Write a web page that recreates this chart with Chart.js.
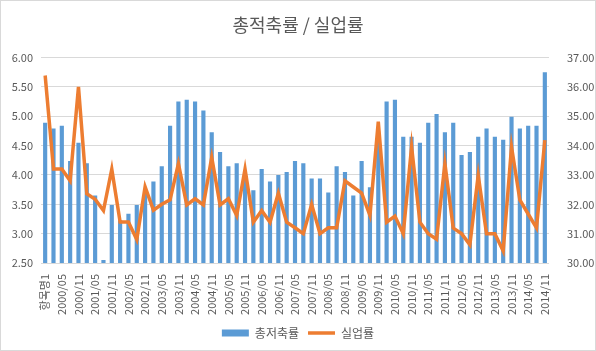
<!DOCTYPE html>
<html>
<head>
<meta charset="utf-8">
<script src="https://cdn.jsdelivr.net/npm/chart.js@4/dist/chart.umd.min.js"></script>
<style>
  body { margin: 0; background: #fff; }
  #wrap { position: relative; width: 596px; height: 351px; }
  #frame { position: absolute; left: 0; top: 0; width: 596px; height: 351px; box-sizing: border-box; border: 1px solid #d9d9d9; pointer-events: none; }
</style>
</head>
<body>
<div id="wrap">
  <canvas id="chart" width="596" height="351"></canvas>
  <div id="frame"></div>
</div>
<script>
// Kategorien (Quartale)
var labels = ["항목명1",
  "2000/02", "2000/05", "2000/08", "2000/11",
  "2001/02", "2001/05", "2001/08", "2001/11",
  "2002/02", "2002/05", "2002/08", "2002/11",
  "2003/02", "2003/05", "2003/08", "2003/11",
  "2004/02", "2004/05", "2004/08", "2004/11",
  "2005/02", "2005/05", "2005/08", "2005/11",
  "2006/02", "2006/05", "2006/08", "2006/11",
  "2007/02", "2007/05", "2007/08", "2007/11",
  "2008/02", "2008/05", "2008/08", "2008/11",
  "2009/02", "2009/05", "2009/08", "2009/11",
  "2010/02", "2010/05", "2010/08", "2010/11",
  "2011/02", "2011/05", "2011/08", "2011/11",
  "2012/02", "2012/05", "2012/08", "2012/11",
  "2013/02", "2013/05", "2013/08", "2013/11",
  "2014/02", "2014/05", "2014/08", "2014/11"];

// 총저축률 (linke Achse)
var sparquote = [4.89, 4.79, 4.84, 4.24, 4.55, 4.20, 3.65, 2.55, 3.49, 3.23,
  3.34, 3.49, 3.73, 3.89, 4.15, 4.84, 5.25, 5.28, 5.25, 5.10,
  4.73, 4.39, 4.15, 4.20, 4.00, 3.74, 4.10, 3.89, 4.00, 4.05,
  4.24, 4.20, 3.94, 3.94, 3.70, 4.15, 4.05, 3.65, 4.24, 3.79,
  4.65, 5.25, 5.28, 4.65, 4.65, 4.55, 4.89, 5.04, 4.73, 4.89,
  4.34, 4.39, 4.65, 4.79, 4.65, 4.60, 4.99, 4.79, 4.84, 4.84,
  5.75];

// 실업률 (rechte Achse)
var arbeitslos = [36.39, 33.2, 33.2, 32.8, 36.0, 32.36, 32.17, 31.79, 33.2, 31.4,
  31.4, 30.8, 32.6, 31.8, 32.0, 32.15, 33.39, 31.98, 32.19, 31.98,
  33.6, 31.98, 32.19, 31.62, 33.2, 31.39, 31.79, 31.39, 32.38, 31.39,
  31.2, 31.0, 32.0, 31.0, 31.2, 31.2, 32.8, 32.59, 32.38, 31.62,
  34.82, 31.39, 31.6, 31.0, 33.96, 31.39, 31.0, 30.81, 33.39, 31.19,
  31.0, 30.62, 32.99, 31.0, 31.0, 30.41, 33.96, 32.15, 31.67, 31.2,
  34.19];

var grau = '#595959';
var schrift = '"Noto Sans CJK KR", "Noto Sans", sans-serif';

var myChart = new Chart(document.getElementById('chart'), {
    data: {
        labels: labels,
        datasets: [{
            type: 'bar',
            label: '총저축률',
            data: sparquote,
            yAxisID: 'y',
            backgroundColor: '#5B9BD5',
            borderWidth: 0,
            barPercentage: 0.5,
            categoryPercentage: 1,
            order: 1,
            pointStyle: 'rect'
        }, {
            type: 'line',
            label: '실업률',
            data: arbeitslos,
            yAxisID: 'y1',
            borderColor: '#ED7D31',
            backgroundColor: '#ED7D31',
            borderWidth: 3.5,
            pointRadius: 0,
            tension: 0,
            order: 0,
            pointStyle: 'line'
        }]
    },
    options: {
        responsive: false,
        animation: false,
        devicePixelRatio: 1,
        layout: { padding: { left: 0, right: 0, top: 0, bottom: 2 } },
        plugins: {
            title: {
                display: true,
                text: '총적축률 / 실업률',
                color: grau,
                font: { family: schrift, size: 18, weight: 'normal' },
                padding: { top: 14, bottom: 22 }
            },
            legend: {
                position: 'bottom',
                labels: {
                    color: grau,
                    font: { family: schrift, size: 12 },
                    usePointStyle: true,
                    pointStyleWidth: 27,
                    boxHeight: 7,
                    padding: 9,
                    sort: (a, b) => a.datasetIndex - b.datasetIndex
                }
            },
            tooltip: { enabled: false }
        },
        scales: {
            x: {
                grid: { display: false },
                border: { display: false },
                ticks: {
                    color: grau,
                    font: { family: schrift, size: 11 },
                    autoSkip: false,
                    minRotation: 90,
                    maxRotation: 90,
                    padding: 3,
                    callback: function (v, i) { return i % 2 == 0 ? labels[i] : ''; }
                },
                afterFit: function (scale) { scale.height = 55; }
            },
            y: {
                position: 'left',
                min: 2.5,
                max: 6,
                grid: { color: '#d9d9d9', lineWidth: 1, drawTicks: false },
                border: { display: false },
                ticks: {
                    stepSize: 0.5,
                    color: grau,
                    font: { family: schrift, size: 11 },
                    padding: 8,
                    callback: v => v.toFixed(2)
                },
                afterFit: function (scale) { scale.width = 41; }
            },
            y1: {
                position: 'right',
                min: 30,
                max: 37,
                grid: { display: false },
                border: { display: false },
                ticks: {
                    stepSize: 1,
                    color: grau,
                    font: { family: schrift, size: 11 },
                    padding: 10,
                    callback: v => v.toFixed(2)
                },
                afterFit: function (scale) { scale.width = 47; }
            }
        }
    }
});
</script>
</body>
</html>
